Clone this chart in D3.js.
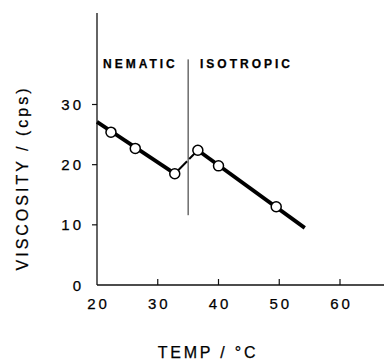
<!DOCTYPE html>
<html>
<head>
<meta charset="utf-8">
<script src="https://cdn.jsdelivr.net/npm/d3@7"></script>
<style>
  html, body { margin: 0; padding: 0; background: #fff; }
  svg { display: block; }
  text { font-family: "Liberation Sans", Arial, sans-serif; fill: #000; stroke: #000; stroke-width: 0.25; }
</style>
</head>
<body>
<svg id="chart" width="384" height="361"></svg>
<script>
// measured points (temperature in C, viscosity in cps)
var temps = [22.3, 26.3, 32.8, 36.6, 40.0, 49.5];
var viscs = [25.4, 22.7, 18.5, 22.4, 19.8, 13.0];

// straight-line fits through each phase
var nematicFit = [[20, 27.1], [32.8, 18.5]];
var isotropicFit = [[36.6, 22.4], [54.2, 9.5]];

// nematic -> isotropic transition
var transitionTemp = 35;
var transitionRange = [11.6, 37.5];

var xTicks = [20, 30, 40, 50, 60];
var yTicks = [0, 10, 20, 30];
var xExtent = [20, 67.3];
var yExtent = [0, 45.2];

var svg = d3.select("#chart");

var x = d3.scaleLinear().domain([20, 60]).range([97, 340]);
var y = d3.scaleLinear().domain([0, 30]).range([285, 104.5]);

// axes: y axis line with outward ticks, x axis line with inward ticks
svg.append("line")
	.attr("x1", x(xExtent[0])).attr("x2", x(xExtent[0]))
	.attr("y1", y(yExtent[1])).attr("y2", y(yExtent[0]))
	.attr("stroke", "#111").attr("stroke-width", 1.3);

svg.append("line")
	.attr("x1", x(xExtent[0])).attr("x2", x(xExtent[1]))
	.attr("y1", y(0)).attr("y2", y(0))
	.attr("stroke", "#111").attr("stroke-width", 1.5);

svg.selectAll("line.ytick")
	.data(yTicks.filter(d => d > 0))
	.enter().append("line")
	.attr("class", "ytick")
	.attr("x1", x(20) - 5).attr("x2", x(20))
	.attr("y1", d => y(d)).attr("y2", d => y(d))
	.attr("stroke", "#111").attr("stroke-width", 1.2);

svg.selectAll("line.xtick")
	.data(xTicks.filter(d => d > 20))
	.enter().append("line")
	.attr("class", "xtick")
	.attr("x1", d => x(d)).attr("x2", d => x(d))
	.attr("y1", y(0) - 6).attr("y2", y(0))
	.attr("stroke", "#111").attr("stroke-width", 1.2);

svg.selectAll("text.ylab")
	.data(yTicks)
	.enter().append("text")
	.attr("class", "ylab")
	.attr("x", 84)
	.attr("y", d => y(d) + 5.5)
	.attr("text-anchor", "end")
	.attr("font-size", 15)
	.attr("letter-spacing", 3)
	.text(d => d);

svg.selectAll("text.xlab")
	.data(xTicks)
	.enter().append("text")
	.attr("class", "xlab")
	.attr("x", d => x(d) + 1.5)
	.attr("y", 309)
	.attr("text-anchor", "middle")
	.attr("font-size", 15)
	.attr("letter-spacing", 3)
	.text(d => d);

// axis titles
svg.append("text")
	.attr("x", 208)
	.attr("y", 358)
	.attr("text-anchor", "middle")
	.attr("font-size", 16)
	.attr("letter-spacing", 2.8)
	.text("TEMP / °C");

svg.append("text")
	.attr("transform", "translate(28,178) rotate(-90)")
	.attr("text-anchor", "middle")
	.attr("font-size", 16)
	.attr("letter-spacing", 3)
	.text("VISCOSITY / (cps)");

// phase boundary
svg.append("line")
	.attr("x1", x(transitionTemp)).attr("x2", x(transitionTemp))
	.attr("y1", y(transitionRange[1])).attr("y2", y(transitionRange[0]))
	.attr("stroke", "#222").attr("stroke-width", 1);

svg.append("text")
	.attr("x", 103).attr("y", 68)
	.attr("font-size", 12).attr("font-weight", "bold")
	.attr("letter-spacing", 3)
	.text("NEMATIC");

svg.append("text")
	.attr("x", 200).attr("y", 68)
	.attr("font-size", 12).attr("font-weight", "bold")
	.attr("letter-spacing", 3)
	.text("ISOTROPIC");

var line = d3.line().x(d => x(d[0])).y(d => y(d[1]));

[nematicFit, isotropicFit].forEach(function(fit) {
	svg.append("path")
		.attr("d", line(fit))
		.attr("fill", "none")
		.attr("stroke", "#000")
		.attr("stroke-width", 3.8)
		.attr("stroke-linecap", "butt");
});

// thin jump across the transition, broken at the boundary
var jump = [[temps[2], viscs[2]], [temps[3], viscs[3]]];
var jumpPath = svg.append("path")
	.attr("d", line(jump))
	.attr("fill", "none")
	.attr("stroke", "#000")
	.attr("stroke-width", 2);
var len = jumpPath.node().getTotalLength();
var frac = (transitionTemp - jump[0][0]) / (jump[1][0] - jump[0][0]);
jumpPath.attr("stroke-dasharray", (len * frac - 1.5) + " 3 " + len);

svg.selectAll("circle.pt")
	.data(d3.zip(temps, viscs))
	.enter().append("circle")
	.attr("class", "pt")
	.attr("cx", d => x(d[0]))
	.attr("cy", d => y(d[1]))
	.attr("r", 5)
	.attr("fill", "#fff")
	.attr("stroke", "#000")
	.attr("stroke-width", 1.5);
</script>
</body>
</html>
